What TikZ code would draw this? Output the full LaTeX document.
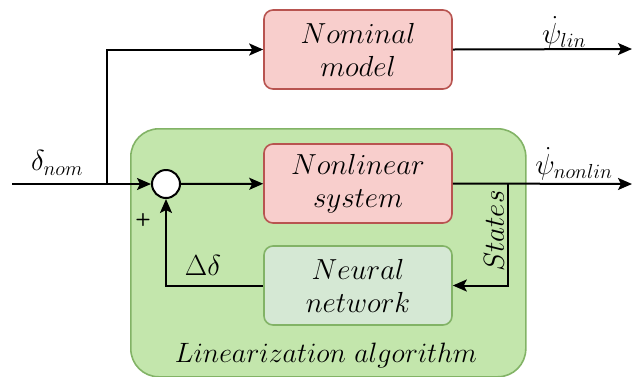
\RequirePackage{fix-cm}
\documentclass[tikz,border=0pt]{standalone}
\usetikzlibrary{arrows.meta}
\definecolor{redfill}{HTML}{F8CECC}
\definecolor{redline}{HTML}{B85450}
\definecolor{grnfill}{HTML}{D5E8D4}
\definecolor{grnline}{HTML}{82B366}
\definecolor{algfill}{HTML}{C3E6AC}
\begin{document}
\begin{tikzpicture}[x=1pt,y=-1pt,
  blk/.style={draw=redline,fill=redfill,line width=1.6pt,rounded corners=9pt,
    minimum width=188pt,minimum height=79pt,align=center,inner sep=0pt},
  nnblk/.style={blk,draw=grnline,fill=grnfill},
  sig/.style={line width=2pt,-{Stealth[length=14pt,width=12pt,inset=3pt]}},
  lbl/.style={font=\fontsize{29}{33}\selectfont,inner sep=0pt},
  txt/.style={font=\fontsize{29}{33}\selectfont}]
\useasboundingbox (0,0) rectangle (632,376);
% linearization container
\node[draw=grnline,fill=algfill,line width=1.6pt,rounded corners=28pt,
  minimum width=395pt,minimum height=248pt,inner sep=0pt,anchor=north west]
  (alg) at (130,128) {};
\node[font=\fontsize{28}{30}\selectfont,anchor=base] (algtxt) at (326,362) {$Linearization\ algorithm$};
% blocks
\node[blk,txt] (nom) at (358,49.5) {$Nominal$\\$model$};
\node[blk,txt] (sys) at (358,183.5) {$Nonlinear$\\$system$};
\node[nnblk,txt] (nn) at (358,285.5) {$Neural$\\$network$};
\node[draw,fill=white,circle,line width=2pt,minimum size=28pt,inner sep=0pt] (sum) at (166,184) {};
% terminals
\coordinate (in) at (12,184);
\coordinate (br) at (107,184);
\coordinate (outlin) at (632,49);
\coordinate (outnl) at (632,184);
\coordinate (st) at (508,184);
% connectors
\draw[sig] (in) -- (sum);
\draw[sig] (br) |- (nom.west);
\draw[sig] (sum) -- (sys);
\draw[sig] (nom.east) -- (outlin);
\draw[sig] (sys.east) -- (outnl);
\draw[sig] (st) |- (nn.east);
\draw[sig] (nn.west) -| (sum.south);
% labels
\node[lbl] (ldnom) at (57,163) {$\delta_{nom}$};
\node[lbl] (lpsil) at (564,33) {$\dot\psi_{lin}$};
\node[lbl] (lpsin) at (574,164) {$\dot\psi_{nonlin}$};
\node[lbl,rotate=90] (lst) at (494,231) {$States$};
\node[lbl] (ldd) at (203,265) {$\Delta\delta$};
\node[font=\sffamily\bfseries\fontsize{18}{18}\selectfont] (plus) at (143,220) {+};
\end{tikzpicture}
\end{document}
